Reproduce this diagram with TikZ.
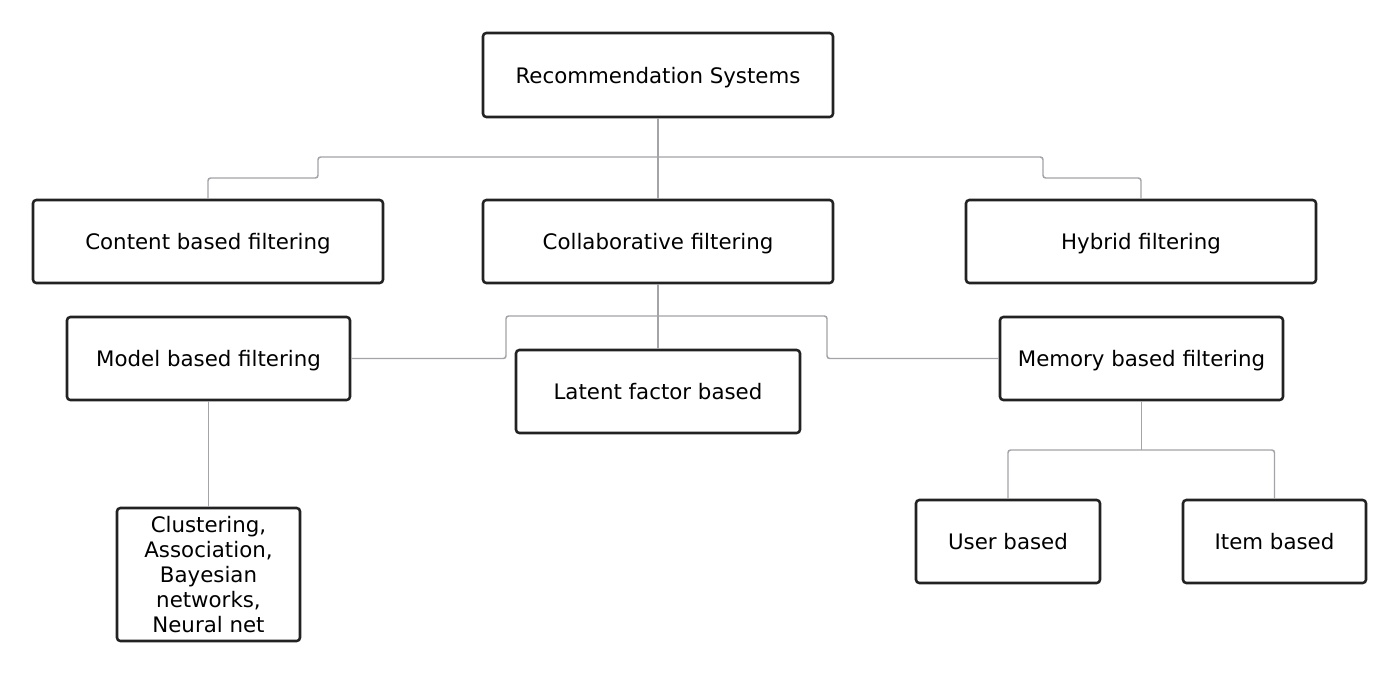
\documentclass[tikz,border=0pt]{standalone}
\usepackage{fontspec}
\setmainfont{DejaVu Sans}
\begin{document}
\begin{tikzpicture}[x=0.75pt,y=-0.75pt,
  box/.style={draw=boxcol,line width=1.9pt,rounded corners=2.5pt,fill=white,
    inner sep=0pt,align=center,font=\fontsize{16}{18.75}\selectfont},
  one/.style={text height=12pt,text depth=0pt},
  conn/.style={draw=conncol,line width=1.1pt,rounded corners=2pt}]
\definecolor{boxcol}{HTML}{222222}
\definecolor{conncol}{HTML}{A3A3A8}
\useasboundingbox[fill=white] (0,0) rectangle (1400,676);
% coordinates of junctions
\coordinate (a1) at (318,178);
\coordinate (a2) at (1043,157);
\coordinate (a3) at (1141,178);
\coordinate (c1) at (506,316);
\coordinate (c2) at (827,358.5);
\coordinate (mj) at (1141.5,450);
% nodes
\node[box,one,minimum width=350*0.75pt,minimum height=84*0.75pt] (rec) at (658,75) {Recommendation Systems};
\node[box,one,minimum width=350*0.75pt,minimum height=83*0.75pt] (content) at (208,241.5) {Content based filtering};
\node[box,one,minimum width=350*0.75pt,minimum height=83*0.75pt] (collab) at (658,241.5) {Collaborative filtering};
\node[box,one,minimum width=350*0.75pt,minimum height=83*0.75pt] (hybrid) at (1141,241.5) {Hybrid filtering};
\node[box,one,minimum width=283*0.75pt,minimum height=83*0.75pt] (model) at (208.5,358.5) {Model based filtering};
\node[box,one,minimum width=284*0.75pt,minimum height=83*0.75pt] (latent) at (658,391.5) {Latent factor based};
\node[box,one,minimum width=283*0.75pt,minimum height=83*0.75pt] (memory) at (1141.5,358.5) {Memory based filtering};
\node[box,minimum width=183*0.75pt,minimum height=133*0.75pt] (clust) at (208.5,574.5) {Clustering,\\Association,\\Bayesian\\networks,\\Neural net};
\node[box,one,minimum width=184*0.75pt,minimum height=83*0.75pt] (user) at (1008,541.5) {User based};
\node[box,one,minimum width=183*0.75pt,minimum height=83*0.75pt] (item) at (1274.5,541.5) {Item based};
% connectors
\draw[conn] (rec.south) -- (collab.north);
\draw[conn] (content.north) |- (a1) |- (a2) |- (a3) -- (hybrid.north);
\draw[conn] (collab.south) -- (latent.north);
\draw[conn] (model.east) -| (c1) -| (c2) -- (memory.west);
\draw[conn] (model.south) -- (clust.north);
\draw[conn] (memory.south) -- (mj);
\draw[conn] (user.north) |- (mj) -| (item.north);
\end{tikzpicture}
\end{document}
